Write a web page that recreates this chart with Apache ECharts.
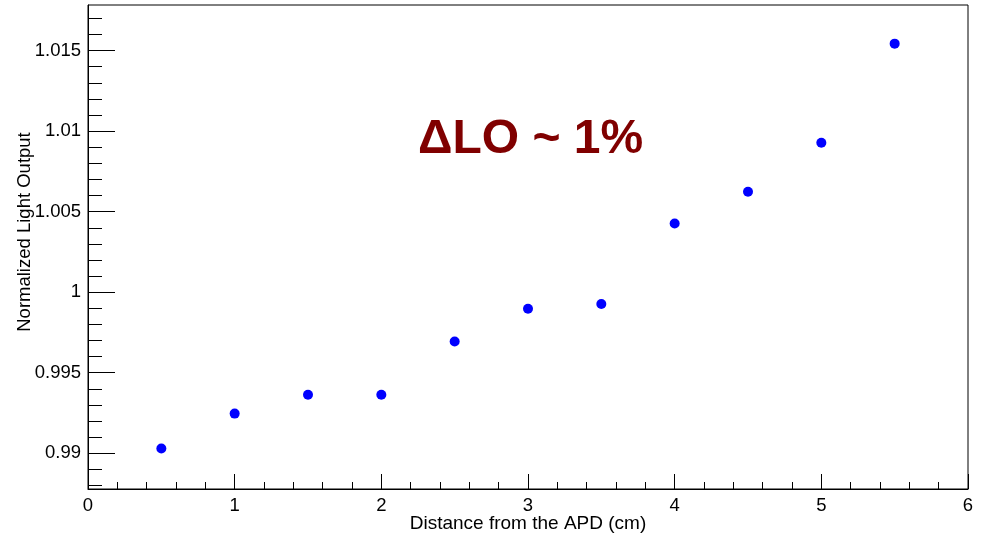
<!DOCTYPE html>
<html>
<head>
<meta charset="utf-8">
<script src="https://cdn.jsdelivr.net/npm/echarts@6/dist/echarts.min.js"></script>
<style>
html,body{margin:0;padding:0;background:#fff;}
#chart{width:986px;height:541px;}
</style>
</head>
<body>
<div id="chart"></div>
<script>
// Data
const distances = [0.5, 1, 1.5, 2, 2.5, 3, 3.5, 4, 4.5, 5, 5.5];
const lightOutput = [0.99029, 0.99246, 0.99363, 0.99363, 0.99694, 0.99897, 0.99927, 1.00426, 1.00623, 1.00928, 1.01543];
const xMajorTicks = [0, 1, 2, 3, 4, 5, 6];
const xMinorTicks = [0.2,0.4,0.6,0.8,1.2,1.4,1.6,1.8,2.2,2.4,2.6,2.8,3.2,3.4,3.6,3.8,4.2,4.4,4.6,4.8,5.2,5.4,5.6,5.8];
const yMajorTicks = [0.99, 0.995, 1, 1.005, 1.01, 1.015];
const yMinorTicks = [0.988,0.989,0.991,0.992,0.993,0.994,0.996,0.997,0.998,0.999,1.001,1.002,1.003,1.004,1.006,1.007,1.008,1.009,1.011,1.012,1.013,1.014,1.016,1.017];
const xTitle = 'Distance from the APD (cm)';
const yTitle = 'Normalized Light Output';
const annotation = 'ΔLO ~ 1%';

const xMin = 0, xMax = 6;
const yMin = 0.98778, yMax = 1.01783;
const FONT = 'Liberation Sans, Arial, Helvetica, sans-serif';

const chart = echarts.init(document.getElementById('chart'), null, {renderer: 'canvas'});
const lineStyle = {color: '#000', width: 1};
chart.setOption({
  animation: false,
  backgroundColor: '#fff',
  grid: {left: 88, right: 18, top: 5, bottom: 52, show: true, borderColor: '#000', borderWidth: 1,
    backgroundColor: 'transparent', containLabel: false, outerBoundsMode: 'none'},
  xAxis: [
    {
      type: 'value', min: xMin, max: xMax,
      name: xTitle, nameLocation: 'middle', nameGap: 25, nameMoveOverlap: false,
      nameTextStyle: {fontFamily: FONT, fontSize: 19, color: '#000'},
      axisLine: {show: true, lineStyle: lineStyle},
      axisTick: {show: true, inside: true, length: 15, lineStyle: lineStyle, customValues: xMajorTicks},
      axisLabel: {show: true, margin: 7, fontFamily: FONT, fontSize: 18.5, color: '#000', customValues: xMajorTicks},
      splitLine: {show: false}
    },
    {
      type: 'value', min: xMin, max: xMax, position: 'bottom',
      axisLine: {show: false},
      axisTick: {show: true, inside: true, length: 7, lineStyle: lineStyle, customValues: xMinorTicks},
      axisLabel: {show: false},
      splitLine: {show: false}
    }
  ],
  yAxis: [
    {
      type: 'value', min: yMin, max: yMax,
      name: yTitle, nameLocation: 'middle', nameGap: 54, nameMoveOverlap: false,
      nameTextStyle: {fontFamily: FONT, fontSize: 18.5, color: '#000', padding: [0, 0, 0, 30]},
      axisLine: {show: true, lineStyle: lineStyle},
      axisTick: {show: true, inside: true, length: 27, lineStyle: lineStyle, customValues: yMajorTicks},
      axisLabel: {show: true, margin: 7, fontFamily: FONT, fontSize: 18.5, color: '#000', customValues: yMajorTicks,
        formatter: function (v) { return String(+v.toFixed(3)); }},
      splitLine: {show: false}
    },
    {
      type: 'value', min: yMin, max: yMax, position: 'left',
      axisLine: {show: false},
      axisTick: {show: true, inside: true, length: 14, lineStyle: lineStyle, customValues: yMinorTicks},
      axisLabel: {show: false},
      splitLine: {show: false}
    }
  ],
  graphic: [{
    type: 'text', left: 418, top: 116,
    style: {text: annotation, fill: '#800000', font: 'bold 48px ' + FONT}
  }],
  series: [{
    type: 'scatter',
    xAxisIndex: 0, yAxisIndex: 0,
    symbol: 'circle', symbolSize: 10,
    itemStyle: {color: '#0000ff', opacity: 1},
    data: distances.map((d, i) => [d, lightOutput[i]])
  }]
});
</script>
</body>
</html>
